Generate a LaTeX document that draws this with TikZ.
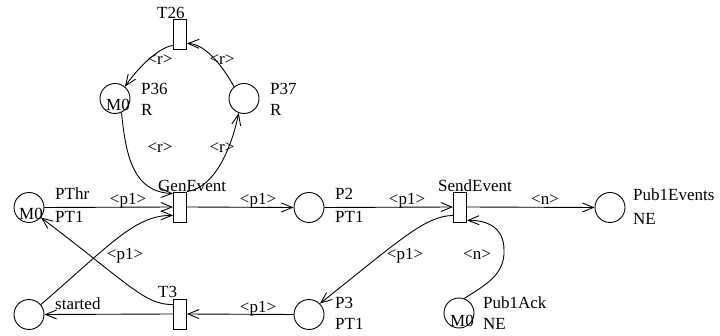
\documentclass[tikz,border=0pt]{standalone}
\usepackage{fontspec}
\setmainfont{Liberation Serif}
\usetikzlibrary{arrows.meta}
\tikzset{
  place/.style={draw, circle, line width=0.9pt, minimum size=30pt, inner sep=0pt},
  trans/.style={draw, rectangle, line width=0.9pt, minimum width=13pt, minimum height=30pt, inner sep=0pt},
  arc/.style={line width=0.9pt, -{Straight Barb[length=11pt,width=9pt]}},
  lbl/.style={anchor=base west, inner sep=0pt, font=\fontsize{17}{20}\selectfont},
  alab/.style={anchor=base, inner sep=0pt, font=\fontsize{17}{20}\selectfont},
}
\begin{document}
\begin{tikzpicture}[x=1pt,y=-1pt]
\useasboundingbox (0,0) rectangle (720,336);
% places
\node[place] (P36) at (115,98.5) {};
\node[place] (P37) at (244,98.5) {};
\node[place] (PThr) at (29,207.5) {};
\node[place] (P2) at (309,207.5) {};
\node[place] (started) at (29,314.5) {};
\node[place] (P3) at (309,314.5) {};
\node[place] (Pub1Events) at (610,207.5) {};
\node[place] (Pub1Ack) at (459,313) {};
% transitions
\node[trans] (T26) at (180,34) {};
\node[trans] (GenEvent) at (180,207) {};
\node[trans] (T3) at (180,314) {};
\node[trans] (SendEvent) at (460,207) {};
% place labels
\node[lbl] (lP36) at (141,95) {P36};
\node[lbl] (tP36) at (141,116) {R};
\node[lbl] (lP37) at (270,95) {P37};
\node[lbl] (tP37) at (270,116) {R};
\node[lbl] (lPThr) at (55,200) {PThr};
\node[lbl] (tPThr) at (55,223) {PT1};
\node[lbl] (lP2) at (335,200) {P2};
\node[lbl] (tP2) at (335,223) {PT1};
\node[lbl] (lstarted) at (55,310) {started};
\node[lbl] (lP3) at (335,309) {P3};
\node[lbl] (tP3) at (335,330) {PT1};
\node[lbl] (lPub1Events) at (633,201) {Pub1Events};
\node[lbl] (tPub1Events) at (633,225) {NE};
\node[lbl] (lPub1Ack) at (483,309) {Pub1Ack};
\node[lbl] (tPub1Ack) at (483,330) {NE};
% markings
\node[lbl] (mP36) at (106,111) {M0};
\node[lbl] (mPThr) at (19,220) {M0};
\node[lbl] (mPub1Ack) at (450,327) {M0};
% transition labels
\node[lbl] (lT26) at (157,19) {T26};
\node[lbl] (lGenEvent) at (158,192) {GenEvent};
\node[lbl] (lT3) at (158,298) {T3};
\node[lbl] (lSendEvent) at (438,192) {SendEvent};
% arcs
\draw[arc] ([yshift=4pt]T26.south west) .. controls (160,47) and (140,65) .. (P36.50);
\draw[arc] (P37.130) .. controls (222,65) and (205,44) .. ([yshift=6pt]T26.south east);
\draw[arc] (P36.-65) .. controls (126,160) and (135,192) .. ([yshift=-2pt]GenEvent.north west);
\draw[arc] (GenEvent.north east) .. controls (214,188) and (231,150) .. (P37.-110);
\draw[arc] (PThr.east) -- (GenEvent.west);
\draw[arc] (started.40) .. controls (110,245) and (135,215) .. ([yshift=7pt]GenEvent.south west);
\draw[arc] ([yshift=-6pt]T3.north west) .. controls (145,305) and (130,285) .. (PThr.-40);
\draw[arc] (T3.west) -- (started.east);
\draw[arc] (P3.west) -- (T3.east);
\draw[arc] (GenEvent.east) -- (P2.west);
\draw[arc] (P2.east) -- (SendEvent.west);
\draw[arc] (SendEvent.east) -- (Pub1Events.west);
\draw[arc] ([yshift=7pt]SendEvent.south west) .. controls (425,216) and (400,240) .. (P3.45);
\coordinate (bend) at (504,250);
\draw[arc] (Pub1Ack.70) .. controls (485,285) and (505,275) .. (bend) .. controls (504,228) and (488,220) .. ([yshift=2pt]SendEvent.south east);
% arc labels
\node[alab] (a1) at (160,65) {<r>};
\node[alab] (a2) at (222,65) {<r>};
\node[alab] (a3) at (160,153) {<r>};
\node[alab] (a4) at (222,153) {<r>};
\node[alab] (a5) at (128,205) {<p1>};
\node[alab] (a6) at (258,205) {<p1>};
\node[alab] (a7) at (407,205) {<p1>};
\node[alab] (a8) at (545,205) {<n>};
\node[alab] (a9) at (125,260) {<p1>};
\node[alab] (a10) at (405,260) {<p1>};
\node[alab] (a11) at (477,260) {<n>};
\node[alab] (a12) at (258,313) {<p1>};
\end{tikzpicture}
\end{document}
